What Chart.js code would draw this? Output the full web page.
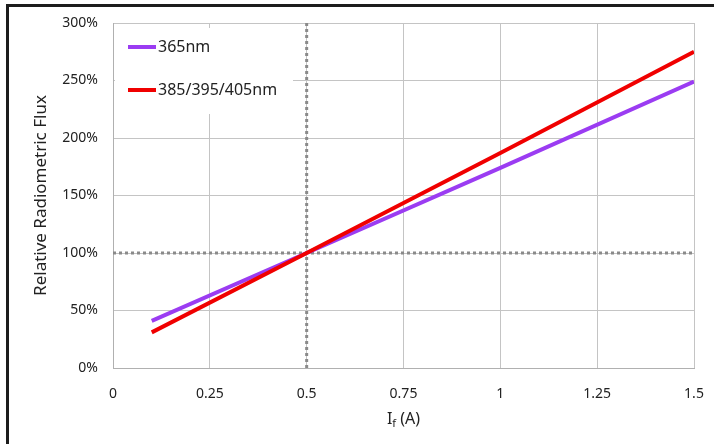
<!DOCTYPE html>
<html>
<head>
<meta charset="utf-8">
<script src="https://cdn.jsdelivr.net/npm/chart.js@4.4.1/dist/chart.umd.min.js"></script>
<style>
  html, body { margin: 0; padding: 0; background: #fff; }
  #wrap { position: relative; width: 714px; height: 444px; overflow: hidden; }
  #c { position: absolute; left: 0; top: 0; }
  .frameTop { position: absolute; left: 6px; top: 4px; width: 708px; height: 3px; background: #1c1c1c; }
  .frameLeft { position: absolute; left: 6px; top: 4px; width: 3px; height: 440px; background: #1c1c1c; }
</style>
</head>
<body>
<div id="wrap">
  <canvas id="c" width="714" height="444"></canvas>
  <div class="frameTop"></div>
  <div class="frameLeft"></div>
</div>
<script>
const currentA = [0.1, 0.5, 1.0, 1.5];
const flux365 = [41, 100, 174, 249];
const flux385 = [31, 100, 187, 275];
const seriesNames = ['365nm', '385/395/405nm'];
const xTicks = [0, 0.25, 0.5, 0.75, 1, 1.25, 1.5];
const yTicks = [0, 50, 100, 150, 200, 250, 300];
const refX = 0.5;
const refY = 100;

const FONT = '"Noto Sans", "Open Sans", sans-serif';

const refLines = {
  id: 'refLines',
  beforeDatasetsDraw(chart) {
    const { ctx, chartArea: a, scales: { x, y } } = chart;
    ctx.save();
    ctx.strokeStyle = '#8a8a8a';
    ctx.lineWidth = 3;
    ctx.setLineDash([3, 3]);
    const px = x.getPixelForValue(refX);
    ctx.beginPath(); ctx.moveTo(px, a.top); ctx.lineTo(px, a.bottom); ctx.stroke();
    const py = y.getPixelForValue(refY);
    ctx.beginPath(); ctx.moveTo(a.left, py); ctx.lineTo(a.right, py); ctx.stroke();
    ctx.restore();
  }
};

const boxLegend = {
  id: 'boxLegend',
  afterDatasetsDraw(chart) {
    const { ctx, chartArea: a } = chart;
    ctx.save();
    ctx.fillStyle = '#fff';
    ctx.fillRect(a.left + 2, a.top + 5, 178, 86);
    ctx.font = '16px ' + FONT;
    ctx.textBaseline = 'middle';
    ctx.textAlign = 'left';
    chart.data.datasets.forEach((d, i) => {
      const yy = a.top + 24 + i * 43;
      ctx.strokeStyle = d.borderColor;
      ctx.lineWidth = 4;
      ctx.beginPath(); ctx.moveTo(a.left + 15, yy); ctx.lineTo(a.left + 43, yy); ctx.stroke();
      ctx.fillStyle = '#222';
      ctx.fillText(d.label, a.left + 45, yy);
    });
    ctx.restore();
  }
};

const xTitle = {
  id: 'xTitle',
  afterDraw(chart) {
    const { ctx, chartArea: a } = chart;
    const cx = (a.left + a.right) / 2;
    const yb = 424;
    ctx.save();
    ctx.fillStyle = '#222';
    ctx.textBaseline = 'alphabetic';
    ctx.font = '16px ' + FONT;
    const wI = ctx.measureText('I').width;
    ctx.font = '11px ' + FONT;
    const wf = ctx.measureText('f').width;
    ctx.font = '16px ' + FONT;
    const wA = ctx.measureText(' (A)').width;
    const total = wI + wf + wA;
    let xs = cx - total / 2;
    ctx.textAlign = 'left';
    ctx.fillText('I', xs, yb);
    ctx.font = '11px ' + FONT;
    ctx.fillText('f', xs + wI, yb + 3);
    ctx.font = '16px ' + FONT;
    ctx.fillText(' (A)', xs + wI + wf, yb);
    ctx.restore();
  }
};

new Chart(document.getElementById('c'), {
  type: 'scatter',
  data: {
    datasets: [
      {
        label: seriesNames[0],
        data: currentA.map((v, i) => ({ x: v, y: flux365[i] })),
        showLine: true, borderColor: '#9b3cf2', backgroundColor: '#9b3cf2',
        borderWidth: 4, pointRadius: 0, order: 2
      },
      {
        label: seriesNames[1],
        data: currentA.map((v, i) => ({ x: v, y: flux385[i] })),
        showLine: true, borderColor: '#f00000', backgroundColor: '#f00000',
        borderWidth: 4, pointRadius: 0, order: 1
      }
    ]
  },
  options: {
    responsive: false,
    animation: false,
    layout: { padding: { left: 31, right: 20, top: 23, bottom: 0 } },
    plugins: {
      legend: { display: false },
      tooltip: { enabled: false }
    },
    scales: {
      x: {
        type: 'linear', min: 0, max: 1.5,
        afterBuildTicks(s) { s.ticks = xTicks.map(v => ({ value: v })); },
        afterFit(s) { s.height = 76; s.paddingLeft = 0; s.paddingRight = 0; },
        grid: { color: '#c4c4c4', lineWidth: 1, drawTicks: false },
        border: { color: '#b0b0b0' },
        ticks: { font: { family: FONT, size: 14 }, color: '#222', padding: 18,
          callback: v => String(v) }
      },
      y: {
        type: 'linear', min: 0, max: 300,
        afterBuildTicks(s) { s.ticks = yTicks.map(v => ({ value: v })); },
        afterFit(s) { s.width = 82; s.paddingTop = 0; s.paddingBottom = 0; },
        grid: { color: '#c4c4c4', lineWidth: 1, drawTicks: false },
        border: { color: '#b0b0b0' },
        title: { display: true, text: 'Relative Radiometric Flux',
          font: { family: FONT, size: 17 }, color: '#222', padding: { top: 0, bottom: 4 } },
        ticks: { font: { family: FONT, size: 14 }, color: '#222', padding: 15,
          callback: v => v + '%' }
      }
    }
  },
  plugins: [refLines, boxLegend, xTitle]
});
</script>
</body>
</html>
